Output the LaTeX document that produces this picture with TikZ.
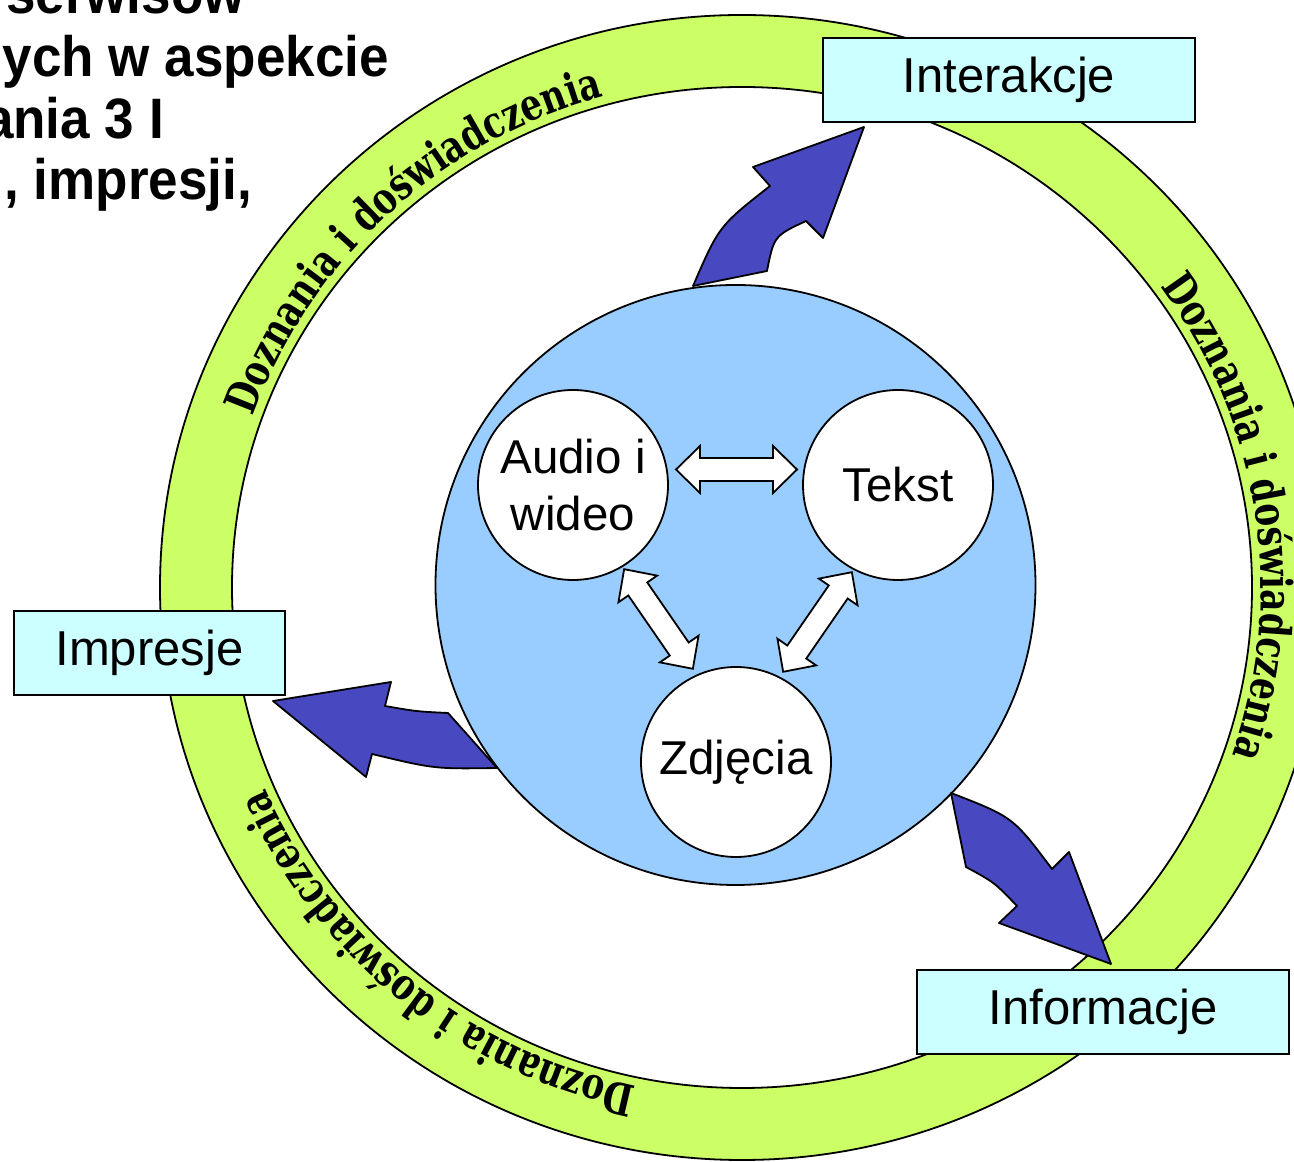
\documentclass[tikz,border=0pt]{standalone}
\usepackage{fontspec}
\setmainfont{Liberation Sans}
\newfontfamily\titlefont[FakeStretch=0.93]{Liberation Sans}
\newfontfamily\ringfont[FakeStretch=0.78]{DejaVu Serif}
\usetikzlibrary{shapes.geometric,decorations.text,calc}

\definecolor{ringlime}{RGB}{204,255,102}
\definecolor{coreblue}{RGB}{153,204,255}
\definecolor{boxcyan}{RGB}{204,255,255}
\definecolor{arrowblue}{RGB}{72,72,192}

\tikzset{
  outline/.style={draw=black, line width=1.8pt},
  ringpart/.style={ellipse, inner sep=0pt, outline},
  labelbox/.style={rectangle, outline, fill=boxcyan, minimum height=84pt,
    inner sep=0pt, font=\fontsize{49}{49}\selectfont},
  medium/.style={circle, outline, fill=white, minimum size=190pt, inner sep=0pt,
    align=center, font=\fontsize{47.5}{57}\selectfont},
  bigarrow/.style={outline, fill=arrowblue, line join=round},
  titleline/.style={anchor=base east, inner sep=0pt,
    font=\titlefont\bfseries\fontsize{57}{57}\selectfont},
  ringlabel/.style={decorate, decoration={text along path, text align=center,
    text={|\ringfont\bfseries\fontsize{44}{44}\selectfont|Doznania i doświadczenia}}},
  pics/twoway/.style={code={
    \draw[outline, fill=white, line join=miter]
      (-60.5,0) -- (-36.5,23.5) -- (-36.5,11.5) -- (36.5,11.5) -- (36.5,23.5)
      -- (60.5,0) -- (36.5,-23.5) -- (36.5,-11.5) -- (-36.5,-11.5)
      -- (-36.5,-23.5) -- cycle;
  }}
}

\begin{document}
\begin{tikzpicture}[x=1pt,y=1pt]
\useasboundingbox (0,0) rectangle (1294,1162);
\clip (0,0) rectangle (1294,1162);
\fill[white] (0,0) rectangle (1294,1162);

% heading lines running in from the left edge
\node[titleline] (t1) at (245,1148) {serwisów};
\node[titleline] (t2) at (389,1085) {ych w aspekcie};
\node[titleline] (t3) at (164,1023) {ania 3 I};
\node[titleline] (t4) at (252,962) {i, impresji,};

% outer ring
\node[ringpart, fill=ringlime, minimum width=1164pt, minimum height=1145pt] (ringout) at (742,574.5) {};
\node[ringpart, fill=white, minimum width=1020pt, minimum height=1001pt] (ringin) at (742,574.5) {};

% labels written along the ring
\path[ringlabel] (ringin.center) ++(168:519 and 509.5)
  arc[start angle=168, end angle=98, x radius=519, y radius=509.5];
\path[ringlabel] (ringin.center) ++(43.5:519 and 509.5)
  arc[start angle=43.5, end angle=-26.5, x radius=519, y radius=509.5];
\path[ringlabel] (ringin.center) ++(-94.3:519 and 509.5)
  arc[start angle=-94.3, end angle=-164.3, x radius=519, y radius=509.5];

% central disc
\node[circle, outline, fill=coreblue, minimum size=600pt, inner sep=0pt] (core) at (735.5,577) {};

% curved block arrows leaving the disc
\draw[bigarrow] (693,876) -- (767,891) .. controls (774,926) .. (806,941)
  -- (823,924) -- (864,1035) -- (753,995) -- (770,976)
  .. controls (719,936) .. (693,876) -- cycle;
\draw[bigarrow] (273,461) -- (391,480) -- (385,456)
  .. controls (416.5,450.5) .. (448,449) -- (497,394)
  .. controls (434.5,393) .. (372,408) -- (366,385) -- cycle;
\draw[bigarrow] (951,369) -- (966,295) .. controls (994.5,279.5) .. (1017,256)
  -- (999,239) -- (1111,198) -- (1069,310) -- (1052,293)
  .. controls (1013,345) .. (951,369) -- cycle;

% outcome boxes
\node[labelbox, minimum width=372pt] (inter) at (1009,1082) {Interakcje};
\node[labelbox, minimum width=271pt] (impr) at (149.5,509) {Impresje};
\node[labelbox, minimum width=372pt] (info) at (1103,150) {Informacje};

% media circles
\node[medium] (aud) at (573,677) {Audio i\\wideo};
\node[medium] (tek) at (898,677) {Tekst};
\node[medium] (zdj) at (736,400) {Zdjęcia};

% two-way links between the media
\pic[rotate=0] at ($(aud)!0.5!(tek)+(1,15.5)$) {twoway};
\pic[rotate=-55.4] at ($(aud)!0.5!(zdj)+(4,4.5)$) {twoway};
\pic[rotate=55.4] at ($(tek)!0.5!(zdj)+(0.5,1.5)$) {twoway};
\end{tikzpicture}
\end{document}
